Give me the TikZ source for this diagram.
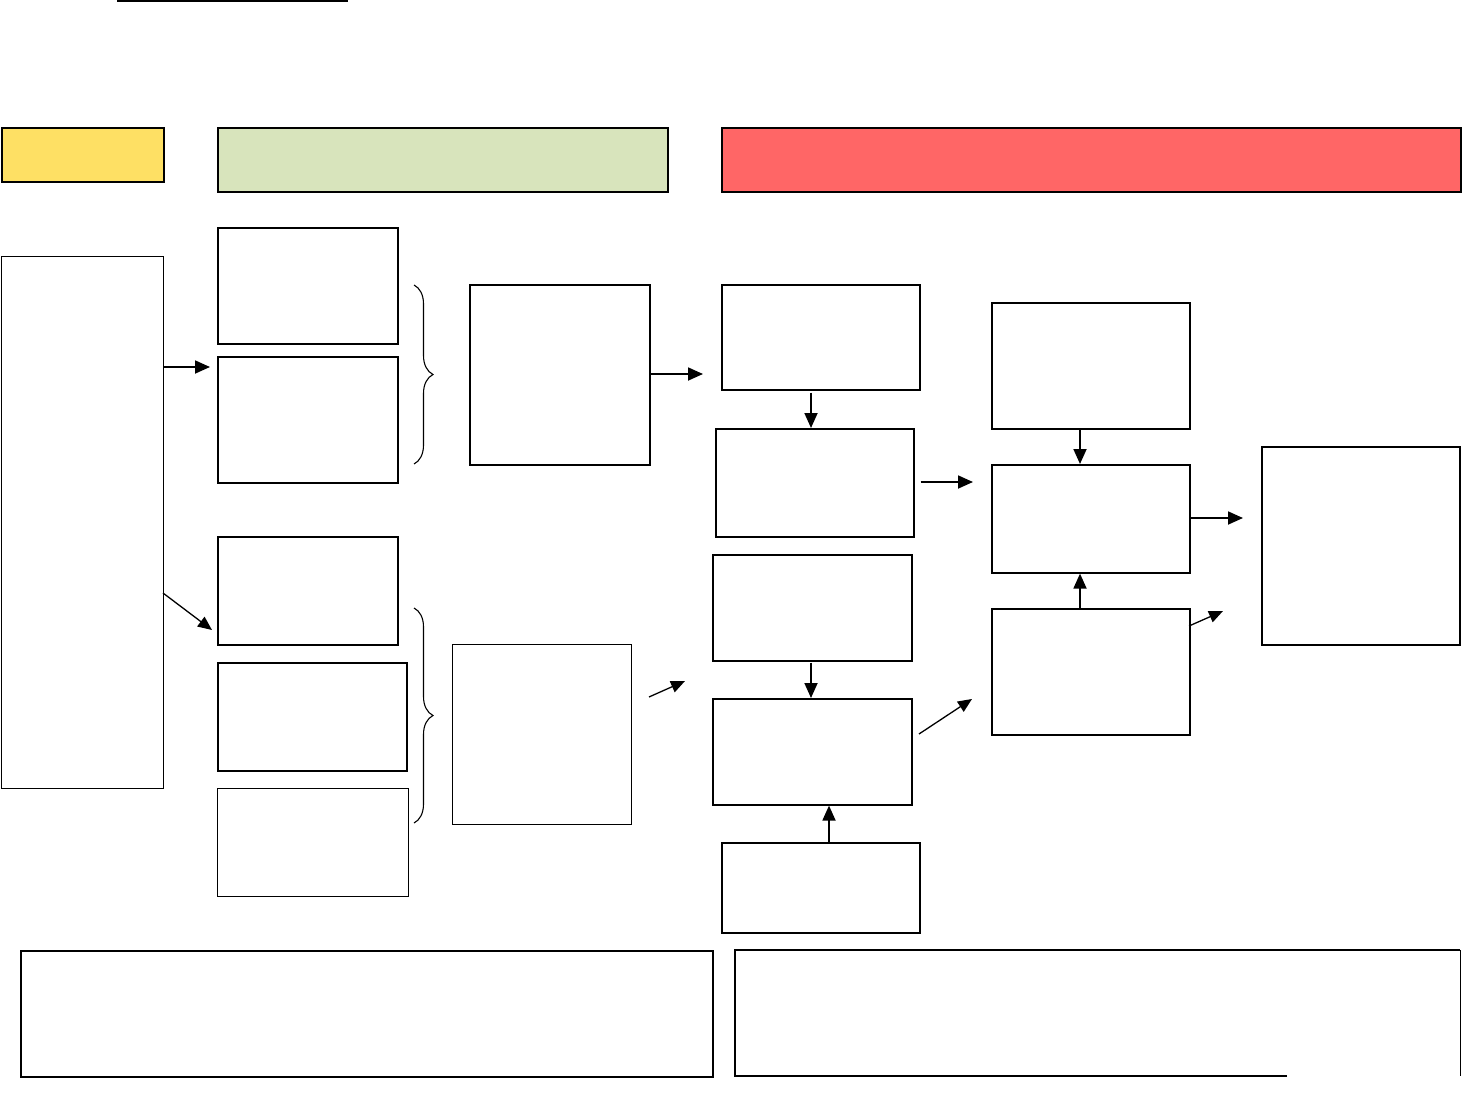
\documentclass[tikz,border=0pt]{standalone}
\usetikzlibrary{arrows.meta,decorations.pathreplacing,calc}
\definecolor{hdyellow}{HTML}{FEE064}
\definecolor{hdgreen}{HTML}{D8E4BC}
\definecolor{hdred}{HTML}{FF6666}
\begin{document}
\begin{tikzpicture}[x=1pt,y=-1pt,
  box/.style={draw,line width=1.6pt,rectangle,inner sep=0pt,anchor=north west},
  thinbox/.style={draw,line width=1pt,rectangle,inner sep=0pt,anchor=north west},
  header/.style={draw,line width=2.4pt,rectangle,inner sep=0pt,anchor=north west},
  arr/.style={line width=1.8pt,-{Triangle[length=15pt,width=13pt]}},
  sarr/.style={line width=1.3pt,-{Triangle[length=14pt,width=12pt]}},
  bracestyle/.style={line width=1.1pt,decorate,decoration={brace,amplitude=19pt}}]
\useasboundingbox (0,0) rectangle (1481,1100);
% top underline
\draw[line width=1.5pt] (117,1) coordinate (ul1) -- (348,1) coordinate (ul2);
% headers
\node[header,fill=hdyellow,minimum width=162pt,minimum height=54pt] (hy) at (1,127) {};
\node[header,fill=hdgreen,minimum width=450pt,minimum height=64pt] (hg) at (217,127) {};
\node[header,fill=hdred,minimum width=739pt,minimum height=64pt] (hr) at (721,127) {};
% left tall box
\node[thinbox,minimum width=162pt,minimum height=532pt] (L) at (1,256) {};
% column A
\node[box,minimum width=180pt,minimum height=116pt] (A1) at (217,227) {};
\node[box,minimum width=180pt,minimum height=126pt] (A2) at (217,356) {};
\node[box,minimum width=180pt,minimum height=108pt] (C1) at (217,536) {};
\node[box,minimum width=189pt,minimum height=108pt] (C2) at (217,662) {};
\node[thinbox,minimum width=191pt,minimum height=108pt] (C3) at (217,788) {};
% B, D
\node[box,minimum width=180pt,minimum height=180pt] (B) at (469,284) {};
\node[thinbox,minimum width=179pt,minimum height=180pt] (D) at (452,644) {};
% column E/F
\node[box,minimum width=198pt,minimum height=105pt] (E1) at (721,284) {};
\node[box,minimum width=198pt,minimum height=108pt] (E2) at (715,428) {};
\node[box,minimum width=199pt,minimum height=106pt] (F1) at (712,554) {};
\node[box,minimum width=199pt,minimum height=106pt] (F2) at (712,698) {};
\node[box,minimum width=198pt,minimum height=90pt] (G) at (721,842) {};
% column H
\node[box,minimum width=198pt,minimum height=126pt] (H1) at (991,302) {};
\node[box,minimum width=198pt,minimum height=108pt] (H2) at (991,464) {};
\node[box,minimum width=198pt,minimum height=126pt] (H3) at (991,608) {};
% I
\node[box,minimum width=198pt,minimum height=198pt] (I) at (1261,446) {};
% bottom boxes
\node[box,minimum width=692pt,minimum height=126pt] (BL) at (20,950) {};
\coordinate (br1) at (735,950);
\coordinate (br2) at (1460,950);
\coordinate (br3) at (1460,1076);
\coordinate (br4) at (1287,1076);
\coordinate (br5) at (735,1076);
\draw[line width=1.6pt] (br4) -- (br5) -- (br1) -- (br2);
\draw[line width=1pt] (br2) -- (br3);
% braces
\draw[bracestyle] (414,285) coordinate (b1s) -- (414,464) coordinate (b1e);
\draw[bracestyle] (414,608) coordinate (b2s) -- (414,823) coordinate (b2e);
% arrow end coordinates
\coordinate (t1) at (210,367);
\coordinate (s2) at (163,593);
\coordinate (t2) at (212,630);
\coordinate (t3) at (703,374);
\coordinate (s4) at (649,697);
\coordinate (t4) at (685,681);
\coordinate (t5) at (973,482);
\coordinate (s6) at (919,734);
\coordinate (t6) at (972,699);
\coordinate (t7) at (1243,518);
\coordinate (s8) at (1189,626);
\coordinate (t8) at (1223,611);
% arrows
\draw[arr] (L.east |- t1) -- (t1);
\draw[sarr] (s2) -- (t2);
\draw[arr] (B.east |- t3) -- (t3);
\draw[sarr] (s4) -- (t4);
\draw[arr] (E1.south -| 811,0) ++(0,2) -- (E2.north -| 811,0);
\draw[arr] (E2.east |- t5) ++(6,0) -- (t5);
\draw[arr] (F1.south -| 811,0) ++(0,1) -- (F2.north -| 811,0);
\draw[arr] (G.north -| 829,0) -- (F2.south -| 829,0);
\draw[sarr] (s6) -- (t6);
\draw[arr] (H1.south -| 1080,0) -- (H2.north -| 1080,0);
\draw[arr] (H3.north -| 1080,0) -- (H2.south -| 1080,0);
\draw[arr] (H2.east |- t7) -- (t7);
\draw[sarr] (s8) -- (t8);
\end{tikzpicture}
\end{document}
